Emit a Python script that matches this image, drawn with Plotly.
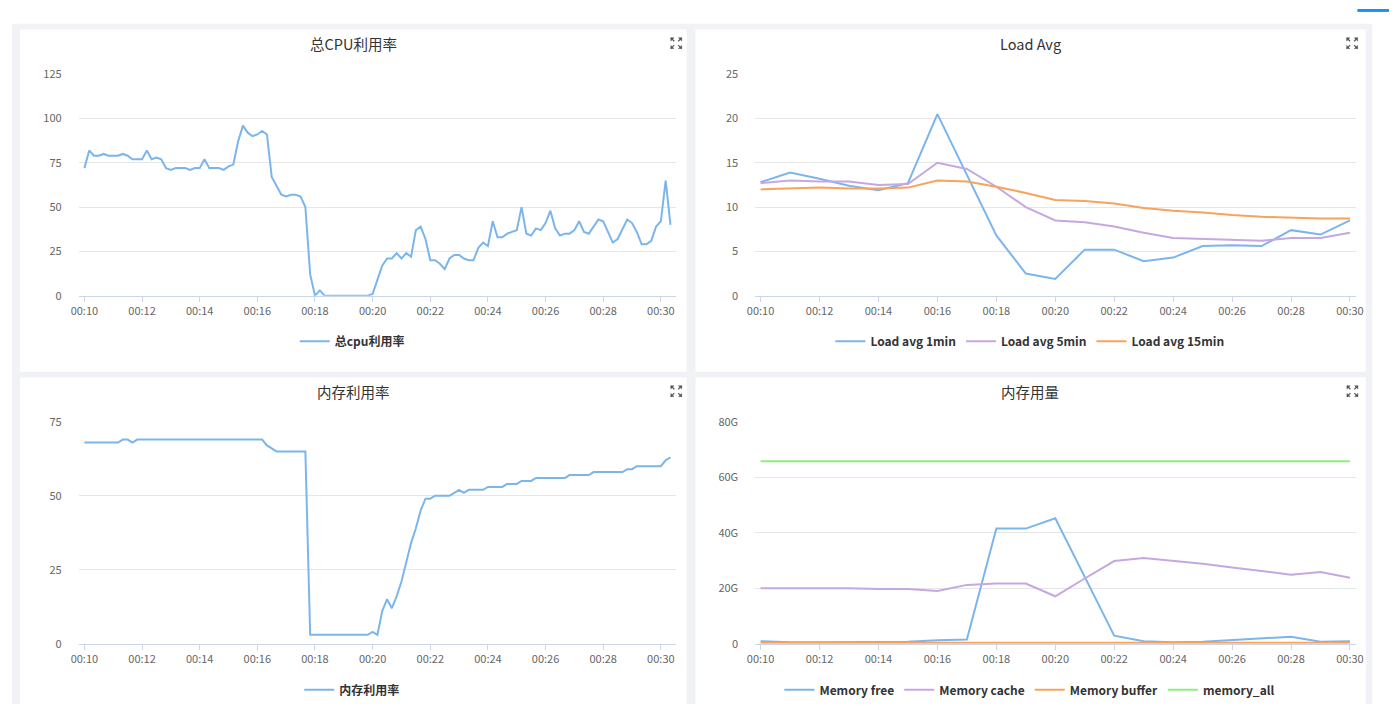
import pandas as pd
import plotly.graph_objects as go

W, H = 1396, 711

# 每10秒一个点 00:10:00 - 00:30:20
sec_times = pd.date_range("2024-01-01 00:10:00", periods=123, freq="10s")
# 每分钟一个点 00:10 - 00:30
min_times = pd.date_range("2024-01-01 00:10:00", periods=21, freq="1min")

cpu_total = [
    72, 82, 79, 79, 80, 79, 79, 79, 80, 79,
    77, 77, 77, 82, 77, 78, 77, 72, 71, 72,
    72, 72, 71, 72, 72, 77, 72, 72, 72, 71,
    73, 74, 87, 96, 92, 90, 91, 93, 91, 67,
    62, 57, 56, 57, 57, 56, 50, 12, 0, 3,
    0, 0, 0, 0, 0, 0, 0, 0, 0, 0,
    1, 9, 17, 21, 21, 24, 21, 24, 22, 37,
    39, 32, 20, 20, 18, 15, 21, 23, 23, 21,
    20, 20, 27, 30, 28, 42, 33, 33, 35, 36,
    37, 50, 35, 34, 38, 37, 41, 48, 38, 34,
    35, 35, 37, 42, 36, 35, 39, 43, 42, 36,
    30, 32, 38, 43, 41, 36, 29, 29, 31, 39,
    42, 65, 40,
]

mem_util = [
    68, 68, 68, 68, 68, 68, 68, 68, 69, 69,
    68, 69, 69, 69, 69, 69, 69, 69, 69, 69,
    69, 69, 69, 69, 69, 69, 69, 69, 69, 69,
    69, 69, 69, 69, 69, 69, 69, 69, 67, 66,
    65, 65, 65, 65, 65, 65, 65, 3, 3, 3,
    3, 3, 3, 3, 3, 3, 3, 3, 3, 3,
    4, 3, 11, 15, 12, 16, 21, 28, 34, 39,
    45, 49, 49, 50, 50, 50, 50, 51, 52, 51,
    52, 52, 52, 52, 53, 53, 53, 53, 54, 54,
    54, 55, 55, 55, 56, 56, 56, 56, 56, 56,
    56, 57, 57, 57, 57, 57, 58, 58, 58, 58,
    58, 58, 58, 59, 59, 60, 60, 60, 60, 60,
    60, 62, 63,
]

load_1 = [12.8, 13.9, 13.2, 12.4, 11.9, 12.7, 20.5, 13.6, 6.8, 2.5, 1.9,
          5.2, 5.2, 3.9, 4.3, 5.6, 5.7, 5.6, 7.4, 6.9, 8.5]
load_5 = [12.7, 13.0, 12.9, 12.9, 12.5, 12.6, 15.0, 14.3, 12.3, 10.0, 8.5,
          8.3, 7.8, 7.1, 6.5, 6.4, 6.3, 6.2, 6.5, 6.5, 7.1]
load_15 = [12.0, 12.1, 12.2, 12.1, 12.1, 12.2, 13.0, 12.9, 12.3, 11.6, 10.8,
           10.7, 10.4, 9.9, 9.6, 9.4, 9.1, 8.9, 8.8, 8.7, 8.7]

# 单位 G
mem_free = [0.9, 0.5, 0.5, 0.5, 0.7, 0.7, 1.2, 1.5, 41.5, 41.5, 45.2,
            24.0, 2.9, 0.9, 0.5, 0.7, 1.3, 1.9, 2.5, 0.7, 0.9]
mem_cache = [20.0, 20.1, 20.0, 20.0, 19.7, 19.7, 19.0, 21.2, 21.7, 21.7, 17.1,
             23.5, 29.8, 30.9, 29.9, 28.8, 27.5, 26.1, 24.9, 25.8, 23.8]
mem_buffer = [0.3] * 21
mem_all = [65.8] * 21
mem_ticks = [0, 20, 40, 60, 80]
mem_ticktext = ["0", "20G", "40G", "60G", "80G"]

BLUE = "#7cb5ec"
PURPLE = "#c5a8e2"
ORANGE = "#f7a35c"
GREEN = "#90ed7d"
FONT = "Noto Sans CJK SC, Open Sans, sans-serif"


def px(x):
    return x / W


def py(y):
    return 1 - y / H


fig = go.Figure()

fig.add_trace(go.Scatter(x=sec_times, y=cpu_total, name="总cpu利用率", mode="lines",
                         line=dict(color=BLUE, width=2), xaxis="x", yaxis="y", legend="legend"))
for name, vals, color in [("Load avg 1min", load_1, BLUE),
                          ("Load avg 5min", load_5, PURPLE),
                          ("Load avg 15min", load_15, ORANGE)]:
    fig.add_trace(go.Scatter(x=min_times, y=vals, name=name, mode="lines",
                             line=dict(color=color, width=2), xaxis="x2", yaxis="y2", legend="legend2"))
fig.add_trace(go.Scatter(x=sec_times, y=mem_util, name="内存利用率", mode="lines",
                         line=dict(color=BLUE, width=2), xaxis="x3", yaxis="y3", legend="legend3"))
for name, vals, color in [("Memory free", mem_free, BLUE),
                          ("Memory cache", mem_cache, PURPLE),
                          ("Memory buffer", mem_buffer, ORANGE),
                          ("memory_all", mem_all, GREEN)]:
    fig.add_trace(go.Scatter(x=min_times, y=vals, name=name, mode="lines",
                             line=dict(color=color, width=2), xaxis="x4", yaxis="y4", legend="legend4"))

tick_font = dict(family=FONT, size=11, color="#666666")


def xaxis(left, right, rng, anchor):
    return dict(domain=[px(left), px(right)], anchor=anchor, type="date",
                range=rng, tick0="2024-01-01 00:10:00", dtick=120000, tickformat="%H:%M",
                showgrid=False, showline=True, linecolor="#ccd6eb", linewidth=1,
                ticks="outside", ticklen=5, tickcolor="#ccd6eb", tickfont=tick_font,
                zeroline=False, fixedrange=True)


def yaxis(top, bottom, rng, dtick, anchor):
    return dict(domain=[py(bottom), py(top)], anchor=anchor, range=rng, dtick=dtick,
                showgrid=True, gridcolor="#e6e6e6", gridwidth=1, zeroline=False,
                showline=False, ticks="", tickfont=tick_font, ticklabelstandoff=16,
                fixedrange=True)


left_rng = ["2024-01-01 00:09:48", "2024-01-01 00:30:31"]
right_rng = ["2024-01-01 00:09:49", "2024-01-01 00:30:13"]

y4 = yaxis(422.3, 649.3, [0, 80], None, "x4")
y4.pop("dtick")
y4.update(tickvals=mem_ticks, ticktext=mem_ticktext)

fig.update_layout(
    width=W, height=H,
    margin=dict(l=0, r=0, t=0, b=0),
    paper_bgcolor="white", plot_bgcolor="rgba(0,0,0,0)",
    font=dict(family=FONT, color="#333333"),
    showlegend=True,
    xaxis=xaxis(71.4, 675, left_rng, "y"),
    yaxis=yaxis(66.7, 293.3, [0, 125], 25, "x"),
    xaxis2=xaxis(755.3, 1363, right_rng, "y2"),
    yaxis2=yaxis(66.7, 293.3, [0, 25], 5, "x2"),
    xaxis3=xaxis(71.4, 675, left_rng, "y3"),
    yaxis3=yaxis(422.3, 649.3, [0, 75], 25, "x3"),
    xaxis4=xaxis(755.3, 1363, right_rng, "y4"),
    yaxis4=y4,
)

leg_font = dict(family=FONT, size=12, color="#333333", weight="bold")
for key, cx, cy in [("legend", 348, 340), ("legend2", 1033, 340),
                    ("legend3", 348, 696.5), ("legend4", 1033, 696.5)]:
    fig.layout[key] = dict(orientation="h", x=px(cx), y=py(cy), xanchor="center", yanchor="middle",
                           font=leg_font, bgcolor="rgba(0,0,0,0)", itemwidth=30,
                           itemclick=False, itemdoubleclick=False)

shapes = []
# 灰色背景与白色卡片
shapes.append(dict(type="rect", xref="paper", yref="paper", x0=px(4), x1=px(1379), y0=py(711), y1=py(15),
                   fillcolor="#f0f2f5", line=dict(width=0), layer="below"))
for l, t, r, b in [(12, 21, 686, 371), (695, 21, 1372.5, 371),
                   (12, 377, 686, 711), (695, 377, 1372.5, 711)]:
    shapes.append(dict(type="rect", xref="paper", yref="paper", x0=px(l), x1=px(r), y0=py(b), y1=py(t),
                       fillcolor="white", line=dict(width=0), layer="below"))
# 右上角蓝色按钮边缘
shapes.append(dict(type="rect", xref="paper", yref="paper", x0=px(1364), x1=px(1396), y0=py(3), y1=py(0),
                   fillcolor="#1890ff", line=dict(width=0), layer="below"))


def expand_icon(cx, cy):
    out = []
    for sx, sy in [(-1, -1), (1, -1), (-1, 1), (1, 1)]:
        ox, oy = cx + sx * 5.5, cy + sy * 5.5
        ix, iy = cx + sx * 2, cy + sy * 2
        out.append(dict(type="line", xref="paper", yref="paper",
                        x0=px(ix), y0=py(iy), x1=px(ox), y1=py(oy),
                        line=dict(color="#555555", width=1.2)))
        path = "M {},{} L {},{} L {},{} Z".format(
            px(ox), py(oy), px(ox - sx * 3.2), py(oy), px(ox), py(oy - sy * 3.2))
        out.append(dict(type="path", xref="paper", yref="paper", path=path,
                        fillcolor="#555555", line=dict(color="#555555", width=0.5)))
    return out


for cx, cy in [(675.5, 35), (1358.7, 35), (675.5, 391), (1359, 391)]:
    shapes.extend(expand_icon(cx, cy))

fig.update_layout(shapes=shapes)

title_font = dict(family=FONT, size=14.5, color="#333333")
for text, cx, cy in [("总CPU利用率", 349, 35.5), ("Load Avg", 1033.5, 35.5),
                     ("内存利用率", 349, 391.5), ("内存用量", 1033.5, 391.5)]:
    fig.add_annotation(text=text, x=px(cx), y=py(cy), xref="paper", yref="paper",
                       showarrow=False, xanchor="center", yanchor="middle", font=title_font)

# 页面边距清零，并把图固定在左上角，使页面尺寸正好等于窗口
page_fix = (
    "document.documentElement.style.margin='0';"
    "document.documentElement.style.padding='0';"
    "document.body.style.margin='0';"
    "document.body.style.padding='0';"
    "document.body.style.overflow='hidden';"
    "var g=document.getElementsByClassName('plotly-graph-div')[0];"
    "g.style.position='fixed';g.style.left='0px';g.style.top='0px';"
)
fig.write_html("out.html", config={"displayModeBar": False}, post_script=page_fix)
